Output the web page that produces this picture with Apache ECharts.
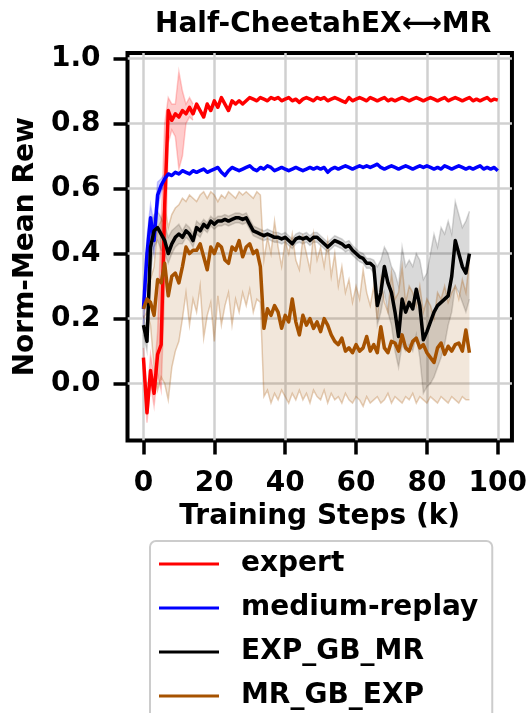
<!DOCTYPE html>
<html>
<head>
<meta charset="utf-8">
<script src="https://cdn.jsdelivr.net/npm/echarts@6/dist/echarts.min.js"></script>
<style>
  html, body { margin: 0; padding: 0; background: #fff; }
  #chartContainer { width: 530px; height: 713px; }
</style>
</head>
<body>
<div id="chartContainer"></div>
<script>
// 采样间隔 (k steps)
const stepK = 1;
const xTicks = [0, 20, 40, 60, 80, 100];
const yTicks = [0, 0.2, 0.4, 0.6, 0.8, 1.0];
const chartTitle = "Half-CheetahEX\u27F7MR";
const seriesNames = ["expert", "medium-replay", "EXP_GB_MR", "MR_GB_EXP"];

// expert, k = 0..100
const expert = [
  0.08, -0.09, 0.04, -0.03, 0.09, 0.12, 0.55, 0.84, 0.81, 0.83,
  0.82, 0.84, 0.83, 0.85, 0.83, 0.86, 0.84, 0.82, 0.86, 0.84,
  0.87, 0.85, 0.88, 0.86, 0.84, 0.87, 0.86, 0.87, 0.86, 0.87,
  0.88, 0.875, 0.87, 0.88, 0.875, 0.87, 0.88, 0.875, 0.88, 0.87,
  0.875, 0.88, 0.87, 0.875, 0.865, 0.875, 0.88, 0.875, 0.87, 0.88,
  0.875, 0.88, 0.87, 0.875, 0.88, 0.875, 0.87, 0.865, 0.88, 0.87,
  0.875, 0.88, 0.875, 0.87, 0.88, 0.875, 0.87, 0.875, 0.88, 0.87,
  0.875, 0.87, 0.875, 0.88, 0.875, 0.87, 0.875, 0.88, 0.875, 0.87,
  0.875, 0.88, 0.875, 0.87, 0.875, 0.88, 0.87, 0.875, 0.88, 0.875,
  0.87, 0.875, 0.88, 0.87, 0.875, 0.87, 0.875, 0.88, 0.87, 0.875,
  0.872
];
const expertLow = [0.05, -0.12, 0.0, -0.07, 0.03, -0.02, 0.3, 0.74, 0.78, 0.76, 0.66, 0.7, 0.8, 0.82, 0.81];
const expertHigh = [0.11, -0.05, 0.09, 0.02, 0.16, 0.5, 0.8, 0.88, 0.86, 0.86, 0.96, 0.9, 0.86, 0.88, 0.86];

// medium-replay, k = 0..100
const mediumReplay = [
  0.23, 0.40, 0.51, 0.44, 0.58, 0.61, 0.63, 0.645, 0.64, 0.65,
  0.645, 0.655, 0.65, 0.645, 0.655, 0.65, 0.655, 0.66, 0.65, 0.655,
  0.66, 0.665, 0.65, 0.64, 0.655, 0.665, 0.66, 0.655, 0.66, 0.665,
  0.67, 0.66, 0.655, 0.665, 0.66, 0.67, 0.665, 0.655, 0.66, 0.665,
  0.66, 0.655, 0.66, 0.665, 0.66, 0.655, 0.66, 0.665, 0.66, 0.665,
  0.66, 0.665, 0.65, 0.66, 0.665, 0.66, 0.665, 0.67, 0.665, 0.66,
  0.665, 0.67, 0.665, 0.67, 0.665, 0.67, 0.675, 0.665, 0.66, 0.665,
  0.67, 0.665, 0.66, 0.665, 0.67, 0.665, 0.66, 0.665, 0.67, 0.665,
  0.67, 0.665, 0.66, 0.665, 0.66, 0.67, 0.665, 0.66, 0.665, 0.67,
  0.665, 0.66, 0.665, 0.66, 0.665, 0.67, 0.66, 0.665, 0.66, 0.665,
  0.655
];
const mediumReplayLow = [0.18, 0.34, 0.46, 0.40, 0.54, 0.59, 0.615];
const mediumReplayHigh = [0.28, 0.45, 0.55, 0.49, 0.62, 0.63, 0.645];

// EXP_GB_MR, k = 0..92
const expGbMr = [
  0.18, 0.13, 0.42, 0.47, 0.48, 0.46, 0.44, 0.40, 0.43, 0.45,
  0.46, 0.45, 0.47, 0.46, 0.44, 0.48, 0.47, 0.49, 0.48, 0.50,
  0.49, 0.50, 0.50, 0.505, 0.50, 0.505, 0.51, 0.51, 0.505, 0.51,
  0.49, 0.47, 0.465, 0.46, 0.455, 0.46, 0.455, 0.45, 0.45, 0.445,
  0.45, 0.44, 0.43, 0.445, 0.45, 0.445, 0.45, 0.44, 0.45, 0.45,
  0.44, 0.43, 0.42, 0.43, 0.44, 0.435, 0.43, 0.42, 0.425, 0.41,
  0.40, 0.39, 0.385, 0.37, 0.37, 0.36, 0.24, 0.28, 0.36, 0.31,
  0.28, 0.22, 0.145, 0.26, 0.22, 0.25, 0.23, 0.29, 0.24, 0.135,
  0.16, 0.19, 0.22, 0.24, 0.25, 0.26, 0.27, 0.33, 0.44, 0.40,
  0.36, 0.34, 0.40
];
const expGbMrLow = [
  0.15, 0.10, 0.34, 0.42, 0.44, 0.41, 0.40, 0.37, 0.40, 0.42,
  0.43, 0.43, 0.45, 0.44, 0.42, 0.46, 0.45, 0.475, 0.465, 0.485,
  0.475, 0.485, 0.485, 0.49, 0.485, 0.49, 0.495, 0.495, 0.49, 0.495,
  0.475, 0.455, 0.45, 0.445, 0.44, 0.445, 0.44, 0.435, 0.435, 0.43,
  0.435, 0.425, 0.415, 0.43, 0.435, 0.43, 0.435, 0.425, 0.435, 0.435,
  0.425, 0.415, 0.405, 0.415, 0.425, 0.42, 0.415, 0.405, 0.41, 0.395,
  0.385, 0.375, 0.37, 0.355, 0.355, 0.34, 0.18, 0.22, 0.28, 0.22,
  0.18, 0.10, 0.05, 0.12, 0.10, 0.12, 0.10, 0.15, 0.08, -0.03,
  -0.01, 0.0, 0.02, 0.05, 0.08, 0.12, 0.18, 0.22, 0.30, 0.28,
  0.25, 0.22, 0.26
];
const expGbMrHigh = [
  0.21, 0.16, 0.48, 0.52, 0.53, 0.51, 0.49, 0.45, 0.47, 0.48,
  0.49, 0.47, 0.49, 0.48, 0.46, 0.50, 0.49, 0.505, 0.495, 0.515,
  0.505, 0.515, 0.515, 0.52, 0.515, 0.52, 0.525, 0.525, 0.52, 0.525,
  0.505, 0.485, 0.48, 0.475, 0.47, 0.475, 0.47, 0.465, 0.465, 0.46,
  0.465, 0.455, 0.445, 0.46, 0.465, 0.46, 0.465, 0.455, 0.465, 0.465,
  0.455, 0.445, 0.435, 0.445, 0.455, 0.45, 0.445, 0.435, 0.44, 0.425,
  0.415, 0.405, 0.40, 0.385, 0.385, 0.38, 0.36, 0.38, 0.42, 0.40,
  0.36, 0.34, 0.30, 0.42, 0.36, 0.38, 0.36, 0.40, 0.38, 0.32,
  0.34, 0.40, 0.46, 0.42, 0.48, 0.46, 0.50, 0.46, 0.56, 0.52,
  0.48, 0.50, 0.53
];

// MR_GB_EXP, k = 0..92
const mrGbExp = [
  0.23, 0.26, 0.25, 0.21, 0.32, 0.31, 0.37, 0.27, 0.33, 0.34,
  0.31, 0.36, 0.42, 0.40, 0.41, 0.41, 0.43, 0.39, 0.35, 0.42,
  0.40, 0.43, 0.42, 0.38, 0.37, 0.42, 0.41, 0.44, 0.39, 0.42,
  0.43, 0.40, 0.41, 0.36, 0.17, 0.23, 0.21, 0.24, 0.22, 0.17,
  0.21, 0.19, 0.26, 0.19, 0.15, 0.21, 0.18, 0.20, 0.17, 0.19,
  0.16, 0.20, 0.18, 0.15, 0.13, 0.12, 0.14, 0.10, 0.11, 0.095,
  0.12, 0.10, 0.11, 0.145, 0.10, 0.12, 0.095, 0.175, 0.11, 0.095,
  0.13, 0.125, 0.10, 0.15, 0.11, 0.10, 0.13, 0.14, 0.11, 0.12,
  0.095, 0.08, 0.065, 0.11, 0.125, 0.09, 0.115, 0.10, 0.12, 0.125,
  0.10, 0.165, 0.095
];
const mrGbExpLow = [
  0.20, 0.22, 0.18, 0.05, -0.02, 0.02, 0.0, -0.05, 0.05, 0.10,
  0.13, 0.20, 0.28, 0.18, 0.26, 0.22, 0.30, 0.14, 0.21, 0.25,
  0.13, 0.27, 0.18, 0.24, 0.28, 0.18, 0.26, 0.22, 0.28, 0.24,
  0.29, 0.22, 0.26, 0.25, -0.04, -0.02, -0.06, -0.03, -0.05, -0.02,
  -0.04, -0.06, -0.03, -0.05, -0.02, -0.05, -0.03, -0.06, -0.02, -0.04,
  -0.05, -0.02, -0.06, -0.03, -0.05, -0.04, -0.06, -0.03, -0.05, -0.06,
  -0.04, -0.05, -0.07, -0.04, -0.06, -0.05, -0.04, -0.06, -0.05, -0.03,
  -0.06, -0.04, -0.05, -0.06, -0.04, -0.05, -0.03, -0.06, -0.04, -0.05,
  -0.06, -0.04, -0.05, -0.06, -0.04, -0.05, -0.06, -0.04, -0.05, -0.06,
  -0.04, -0.05, -0.05
];
const mrGbExpHigh = [
  0.26, 0.30, 0.32, 0.36, 0.48, 0.50, 0.55, 0.48, 0.52, 0.54,
  0.55, 0.57, 0.56, 0.58, 0.57, 0.56, 0.58, 0.59, 0.57, 0.59,
  0.58, 0.56, 0.58, 0.57, 0.59, 0.58, 0.57, 0.59, 0.58, 0.59,
  0.58, 0.57, 0.59, 0.58, 0.38, 0.45, 0.40, 0.50, 0.42, 0.36,
  0.44, 0.40, 0.46, 0.38, 0.35, 0.45, 0.40, 0.35, 0.46, 0.38,
  0.42, 0.36, 0.44, 0.33, 0.40, 0.30, 0.36, 0.28, 0.32, 0.25,
  0.30, 0.26, 0.35, 0.28, 0.24, 0.30, 0.20, 0.32, 0.25, 0.22,
  0.34, 0.26, 0.28, 0.36, 0.25, 0.30, 0.28, 0.24, 0.30, 0.22,
  0.26, 0.24, 0.20, 0.28, 0.26, 0.30, 0.25, 0.28, 0.30, 0.26,
  0.32, 0.28, 0.38
];

const colors = ["#ff0000", "#0000ff", "#000000", "#a65200"];
const fontFamily = "DejaVu Sans";

let Tools = {
  /**
   * 数组转换为 [x, y] 点
   */
  toPoints: (values) => values.map((v, i) => [i * stepK, v]),

  /**
   * 置信区间：custom 系列画多边形 + 上下边线
   */
  bandSeries: (lower, upper, color, fillAlpha, edgeAlpha) => ({
    type: "custom",
    silent: true,
    z: 1,
    clip: true,
    data: lower.map((l, i) => [i * stepK, l, upper[i]]),
    encode: { x: 0, y: [1, 2] },
    renderItem: (params, api) => {
      // 只在第一个点画整条带
      if (params.dataIndex !== 0) return null;
      const lowPts = lower.map((l, i) => api.coord([i * stepK, l]));
      const highPts = upper.map((u, i) => api.coord([i * stepK, u]));
      const edge = echarts.color.modifyAlpha(color, edgeAlpha);
      return {
        type: "group",
        children: [
          {
            type: "polygon",
            shape: { points: highPts.concat(lowPts.slice().reverse()) },
            style: { fill: echarts.color.modifyAlpha(color, fillAlpha), stroke: null },
          },
          {
            type: "polyline",
            shape: { points: lowPts },
            style: { fill: null, stroke: edge, lineWidth: 1.5 },
          },
          {
            type: "polyline",
            shape: { points: highPts },
            style: { fill: null, stroke: edge, lineWidth: 1.5 },
          },
        ],
      };
    },
  }),

  meanSeries: (name, values, color) => ({
    type: "line",
    name: name,
    data: Tools.toPoints(values),
    symbol: "none",
    z: 3,
    lineStyle: { color: color, width: 3.5, join: "round" },
    itemStyle: { color: color },
  }),
};

var chartContainer = document.getElementById("chartContainer");
var myChart = echarts.init(chartContainer, null, { renderer: "canvas" });

var series = [
  Tools.bandSeries(expertLow, expertHigh, colors[0], 0.2, 0.2),
  Tools.bandSeries(mediumReplayLow, mediumReplayHigh, colors[1], 0.2, 0.2),
  Tools.bandSeries(expGbMrLow, expGbMrHigh, colors[2], 0.15, 0.15),
  Tools.bandSeries(mrGbExpLow, mrGbExpHigh, colors[3], 0.14, 0.28),
  Tools.meanSeries(seriesNames[0], expert, colors[0]),
  Tools.meanSeries(seriesNames[1], mediumReplay, colors[1]),
  Tools.meanSeries(seriesNames[2], expGbMr, colors[2]),
  Tools.meanSeries(seriesNames[3], mrGbExp, colors[3]),
];

var textBase = { fontFamily: fontFamily, fontWeight: "bold", fontSize: 28, color: "#000" };

var option = {
  animation: false,
  backgroundColor: "#fff",
  title: {
    text: chartTitle,
    left: 150,
    top: 6,
    textStyle: textBase,
  },
  grid: {
    left: 127.5,
    top: 53,
    width: 386.5,
    height: 387.5,
    show: true,
    borderColor: "#000",
    borderWidth: 4,
    backgroundColor: "transparent",
  },
  xAxis: {
    type: "value",
    min: -4.5,
    max: 104,
    name: "Training Steps (k)",
    nameLocation: "middle",
    nameGap: 59,
    nameTextStyle: textBase,
    axisLine: { show: false, onZero: false },
    axisTick: {
      show: true,
      length: 14,
      customValues: xTicks,
      lineStyle: { color: "#000", width: 3.5 },
    },
    axisLabel: Object.assign({}, textBase, { customValues: xTicks, margin: 29 }),
    splitLine: { show: true, lineStyle: { color: "#d0d0d0", width: 2.5 } },
  },
  yAxis: {
    type: "value",
    min: -0.175,
    max: 1.017,
    name: "Norm-Mean Rew",
    nameLocation: "middle",
    nameGap: 81,
    nameTextStyle: textBase,
    axisLine: { show: false, onZero: false },
    axisTick: {
      show: true,
      length: 14,
      customValues: yTicks,
      lineStyle: { color: "#000", width: 3.5 },
    },
    axisLabel: Object.assign({}, textBase, {
      customValues: yTicks,
      margin: 27,
      formatter: (v) => v.toFixed(1),
    }),
    splitLine: { show: true, lineStyle: { color: "#d0d0d0", width: 2.5 } },
  },
  legend: {
    data: seriesNames.map((n) => ({ name: n, icon: "rect" })),
    orient: "vertical",
    left: 150,
    top: 541,
    height: 260,
    itemWidth: 60,
    itemHeight: 3,
    itemGap: 16,
    padding: [9, 14, 9, 9],
    backgroundColor: "#fff",
    borderColor: "#cccccc",
    borderWidth: 2,
    borderRadius: 6,
    textStyle: Object.assign({}, textBase, { lineHeight: 26, padding: [0, 0, 0, 17] }),
  },
  series: series,
};

myChart.setOption(option);
</script>
</body>
</html>
